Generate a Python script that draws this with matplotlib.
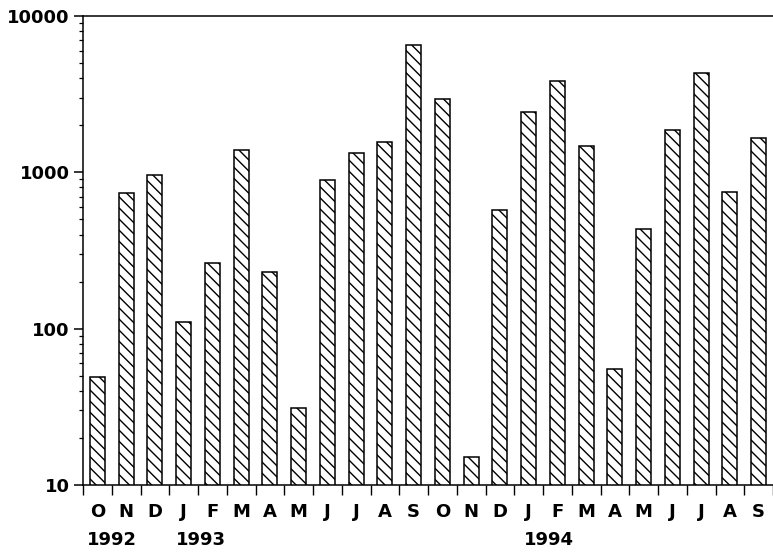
import matplotlib.pyplot as plt
import matplotlib.transforms as mtransforms
import numpy as np

# monthly counts, October 1992 to September 1994
months = ["O", "N", "D", "J", "F", "M", "A", "M", "J", "J", "A", "S",
          "O", "N", "D", "J", "F", "M", "A", "M", "J", "J", "A", "S"]
counts = [49, 741, 958, 110, 263, 1385, 229, 31, 894, 1325, 1572, 6535,
          2936, 15, 575, 2423, 3862, 1476, 55, 432, 1868, 4345, 746, 1667]
years = ["1992", "1993", "1994"]
year_pos = [0.5, 3.6, 15.7]
y_ticks = [10, 100, 1000, 10000]

plt.rcParams['font.family'] = 'DejaVu Sans'
plt.rcParams['hatch.linewidth'] = 1.0

fig = plt.figure(figsize=(7.73, 5.54), dpi=100)
ax = fig.add_axes([83 / 773, 69 / 554, 690 / 773, 469 / 554])

x = np.arange(len(counts))
ax.bar(x, counts, width=0.52, color="white", edgecolor="black",
       linewidth=1.1, hatch="\\\\\\")

ax.set_yscale("log")
ax.set_ylim(10, 10000)
ax.set_xlim(-0.5, 23.5)

ax.spines["right"].set_visible(False)
for side in ("left", "bottom", "top"):
    ax.spines[side].set_linewidth(1.1)

ax.set_yticks(y_ticks)
ax.set_yticklabels([str(v) for v in y_ticks], fontsize=13, fontweight="bold")
ax.tick_params(axis="y", which="major", direction="out", length=6.5,
               width=1.1, pad=3)
ax.tick_params(axis="y", which="minor", direction="out", length=3, width=0.9)

# month letters under each bar, tick marks between bars
ax.set_xticks(x)
ax.set_xticklabels(months, fontsize=13, fontweight="bold")
ax.set_xticks(np.arange(-0.5, 24, 1), minor=True)
ax.tick_params(axis="x", which="major", length=0, pad=13)
ax.tick_params(axis="x", which="minor", direction="out", length=7.5,
               width=1.0)

trans = mtransforms.blended_transform_factory(ax.transData, ax.transAxes)
for yr, pos in zip(years, year_pos):
    ax.text(pos, -0.117, yr, transform=trans, ha="center", va="center",
            fontsize=13, fontweight="bold")

fig.savefig("out.png", dpi=100)
